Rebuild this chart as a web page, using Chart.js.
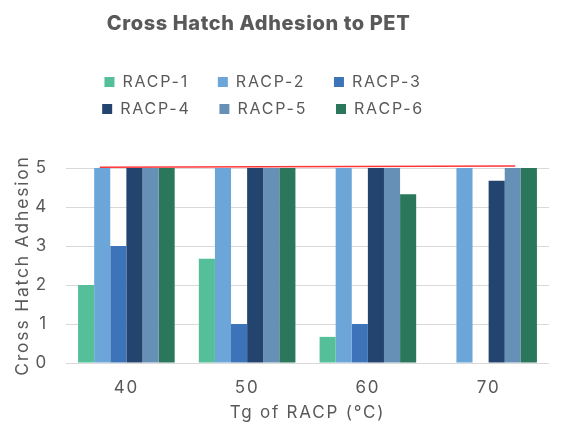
<!DOCTYPE html>
<html>
<head>
<meta charset="utf-8">
<script src="https://cdn.jsdelivr.net/npm/chart.js@4.4.1/dist/chart.umd.min.js"></script>
<style>
  html, body { margin: 0; padding: 0; background: #ffffff; }
  #wrap { width: 581px; height: 438px; position: relative; }
</style>
</head>
<body>
<div id="wrap"><canvas id="c"></canvas></div>
<script>
// ---- data ----
const categories = [40, 50, 60, 70];
const seriesNames = ['RACP-1', 'RACP-2', 'RACP-3', 'RACP-4', 'RACP-5', 'RACP-6'];
const racp1 = [2, 2.67, 0.67, 0];
const racp2 = [5, 5, 5, 5];
const racp3 = [3, 1, 1, 0];
const racp4 = [5, 5, 5, 4.67];
const racp5 = [5, 5, 5, 5];
const racp6 = [5, 5, 4.33, 5];
const refLineX = [37.8, 72.2];
const refLineY = [5.02, 5.05];
const yTicks = [0, 1, 2, 3, 4, 5];
const xRange = [35, 75];

const colors = ['#55BF9A', '#6CA6D9', '#3D74B9', '#22446E', '#6690B5', '#2B775C'];
const values = [racp1, racp2, racp3, racp4, racp5, racp6];
const textColor = '#595959';
const FONT = 'Inter';
const LS = '1.8px';
const TITLE_LS = '0.6px';

const barSets = seriesNames.map((name, i) => ({
  type: 'bar',
  label: name,
  data: values[i].map((v, j) => ({ x: categories[j], y: v })),
  backgroundColor: colors[i],
  borderWidth: 0
}));

const refSet = {
  type: 'line',
  label: 'ref',
  data: refLineX.map((x, i) => ({ x: x, y: refLineY[i] })),
  borderColor: '#FF3535',
  borderWidth: 1.6,
  pointRadius: 0,
  fill: false,
  clip: false
};

// letter spacing for all canvas text
const spacing = {
  id: 'spacing',
  beforeUpdate(chart) { chart.ctx.letterSpacing = LS; },
  beforeLayout(chart) { chart.ctx.letterSpacing = LS; },
  beforeDraw(chart) { chart.ctx.letterSpacing = LS; }
};

// legend layout helper: wrap 3 per row and center on the title
const legendGrid = {
  id: 'legendGrid',
  beforeLayout(chart) {
    const lg = chart.legend;
    if (lg && !lg._patched) {
      const orig = lg.update;
      lg.update = function (w, h, m) {
        const r = orig.call(this, Math.min(w, 400), h, m);
        this.height += 41;
        return r;
      };
      lg._patched = true;
    }
    const t = chart.titleBlock;
    if (t && !t._patched) {
      const od = t.draw;
      t.draw = function (a) {
        const ctx = this.ctx;
        ctx.save();
        ctx.letterSpacing = TITLE_LS;
        od.call(this, a);
        ctx.restore();
      };
      t._patched = true;
    }
  },
  afterLayout(chart) {
    const lg = chart.legend;
    if (lg) {
      lg.left = 72; lg.right = 472; lg.width = 400;
    }
    const t = chart.titleBlock;
    if (t) {
      t.left = 0; t.right = 517; t.width = 517;
    }
  }
};

new Chart(document.getElementById('c'), {
  type: 'bar',
  data: {
    datasets: [...barSets, refSet]
  },
  plugins: [spacing, legendGrid],
  options: {
    responsive: true,
    maintainAspectRatio: false,
    animation: false,
    devicePixelRatio: 1,
    barPercentage: 1,
    categoryPercentage: 0.8,
    layout: { padding: { left: 8, right: 32, top: 0, bottom: 15 } },
    plugins: {
      title: {
        display: true,
        text: 'Cross Hatch Adhesion to PET',
        color: textColor,
        font: { family: FONT, size: 20, weight: 800 },
        padding: { top: 12, bottom: 27 }
      },
      legend: {
        display: true,
        position: 'top',
        labels: {
          color: textColor,
          font: { family: FONT, size: 16 },
          boxWidth: 10,
          boxHeight: 10,
          padding: 11,
          generateLabels: (chart) => {
            const base = Chart.defaults.plugins.legend.labels.generateLabels(chart);
            return base
              .filter(it => seriesNames.includes(it.text))
              .map(it => Object.assign(it, { text: it.text + '\u2002\u2009\u200A', lineWidth: 0 }));
          }
        }
      },
      tooltip: { enabled: false }
    },
    scales: {
      x: {
        type: 'linear',
        min: xRange[0],
        max: xRange[1],
        offset: false,
        afterBuildTicks: (s) => { s.ticks = categories.map(v => ({ value: v })); },
        grid: { display: false, drawTicks: false, offset: false },
        border: { display: false },
        ticks: { color: textColor, font: { family: FONT, size: 17 }, padding: 15 },
        title: {
          display: true,
          text: 'Tg of RACP (°C)',
          color: textColor,
          font: { family: FONT, size: 17 },
          padding: { top: 0, bottom: 0 }
        },
        afterFit: (s) => { s.height = 60; }
      },
      y: {
        type: 'linear',
        min: 0,
        max: 5,
        afterBuildTicks: (s) => { s.ticks = yTicks.map(v => ({ value: v })); },
        grid: { color: '#D9D9D9', lineWidth: 1, drawTicks: false },
        border: { display: false },
        ticks: { color: textColor, font: { family: FONT, size: 17 }, padding: 18 },
        title: {
          display: true,
          text: 'Cross Hatch Adhesion',
          color: textColor,
          font: { family: FONT, size: 17.5 },
          padding: { top: 4, bottom: 4 }
        },
        afterFit: (s) => { s.width = 58; }
      }
    }
  }
});
</script>
</body>
</html>
